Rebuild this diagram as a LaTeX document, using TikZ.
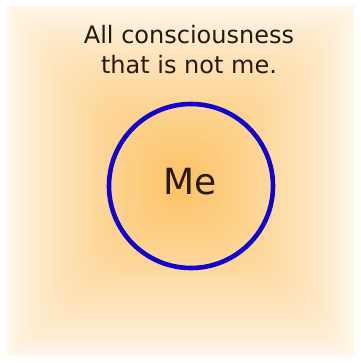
\documentclass[tikz,border=0pt]{standalone}
\usepackage{fontspec}
\setmainfont{DejaVu Sans}
\usepackage{tikz}
\usetikzlibrary{positioning}

\definecolor{glowcore}{RGB}{252,194,100}
\definecolor{glowedge}{RGB}{255,248,238}
\definecolor{ringblue}{RGB}{18,0,204}
\definecolor{inkbrown}{RGB}{40,24,16}

\begin{document}
\begin{tikzpicture}[x=1pt, y=-1pt]
        % --- STILI ---
        \tikzset{
            ring/.style={draw=ringblue, line width=4.6pt, circle, minimum size=164pt, inner sep=0pt},
            caption/.style={text=inkbrown, align=center, font=\fontsize{24}{30}\selectfont},
            self/.style={text=inkbrown, font=\fontsize{36}{40}\selectfont}
        }

        % --- SFONDO ---
        \useasboundingbox (0,0) rectangle (360,363);
        \fill[white] (0,0) rectangle (360,363);
        \foreach \i in {0,...,69} {
            \pgfmathsetmacro\inset{\i*2.5}
            \pgfmathsetmacro\mix{100*(\i/69)^0.8}
            \pgfmathsetmacro\corner{min(30,0.5*\inset,0.9*(174-\inset))+0.01}
            \fill[glowcore!\mix!glowedge, rounded corners=\corner pt]
                (7+\inset,5+\inset) rectangle (355-\inset,357-\inset);
        }

        % --- NODI ---
        \node [ring] (me_ring) at (191,186) {};
        \node [self, anchor=base] (me) at (190,194) {Me};
        \node [caption] (others) at (189,49.5) {All consciousness\\that is not me.};

    \end{tikzpicture}
\end{document}
